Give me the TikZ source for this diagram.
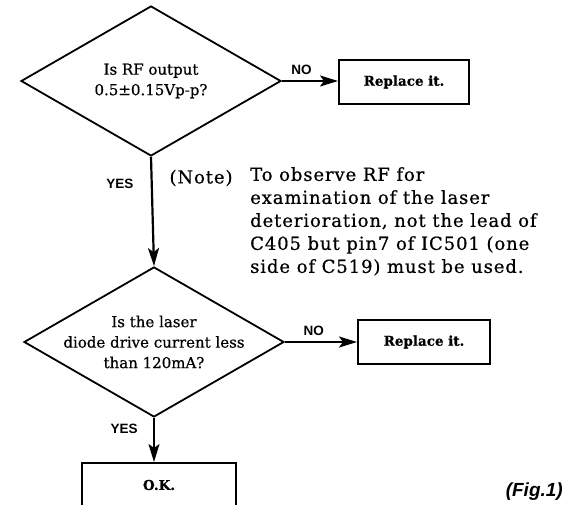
\documentclass[tikz,border=0pt]{standalone}
\usepackage{fontspec}
\setmainfont[FakeBold=0.6]{DejaVu Serif}
\newfontfamily\notefont[FakeBold=0.6, LetterSpace=5]{DejaVu Serif}
\newfontfamily\tagfont{Liberation Sans}
\usetikzlibrary{shapes.geometric,arrows.meta}

\begin{document}
\begin{tikzpicture}[x=1pt, y=-1pt, line join=miter,
  qtext/.style={font=\fontsize{15}{20.5}\selectfont, align=center},
  decision/.style={diamond, draw, line width=1.8pt, minimum width=260pt, minimum height=150pt, inner sep=0pt},
  action/.style={draw, line width=2pt, minimum height=44pt, font=\bfseries\fontsize{13.5}{15}\selectfont},
  flow/.style={-{Stealth[length=18pt,width=11pt,inset=4pt]}, line width=2.2pt},
  answer/.style={font=\tagfont\bfseries\fontsize{13.5}{14}\selectfont}]
\useasboundingbox (0,0) rectangle (566,505);

% ---------- first check: RF output level ----------
\node[decision] (rfq) at (151,81) {};
\node[qtext] (rft) at (rfq.center) {Is RF output\\0.5±0.15Vp-p?};
\node[action, minimum width=130pt] (rfx) at (404,82) {Replace it.};
\draw[flow] (rfq.east) -- (rfq.east -| rfx.west) node[answer, pos=0.35, above=2pt] (rfno) {NO};

% ---------- note beside the YES branch ----------
\node[anchor=west, font=\notefont\fontsize{18}{23}\selectfont] (notetag) at (166,178) {(Note)};
\node[anchor=north west, align=left, inner sep=0pt, font=\notefont\fontsize{18}{23}\selectfont] (notebody) at (250,167)
  {To observe RF for\\examination of the laser\\deterioration, not the lead of\\C405 but pin7 of IC501 (one\\side of C519) must be used.};

% ---------- second check: laser diode drive current ----------
\node[decision] (ldq) at (154,342) {};
\node[qtext] (ldt) at (ldq.center) {Is the laser\\diode drive current less\\than 120mA?};
\node[action, minimum width=132pt] (ldx) at (424,342) {Replace it.};
\draw[flow] (rfq.south) -- (ldq.north) node[answer, pos=0.25, left=14pt] (rfyes) {YES};
\draw[flow] (ldq.east) -- (ldx.west) node[answer, pos=0.4, above=2pt] (ldno) {NO};

% ---------- end ----------
\node[action, minimum width=154pt] (okb) at (159,485) {O.K.};
\draw[flow] (ldq.south) -- (ldq.south |- okb.north) node[answer, pos=0.25, left=12pt] (ldyes) {YES};
\node[anchor=east, inner sep=1pt, font=\tagfont\bfseries\itshape\fontsize{19}{20}\selectfont] (figtag) at (564,492) {(Fig.1)};

\end{tikzpicture}
\end{document}
